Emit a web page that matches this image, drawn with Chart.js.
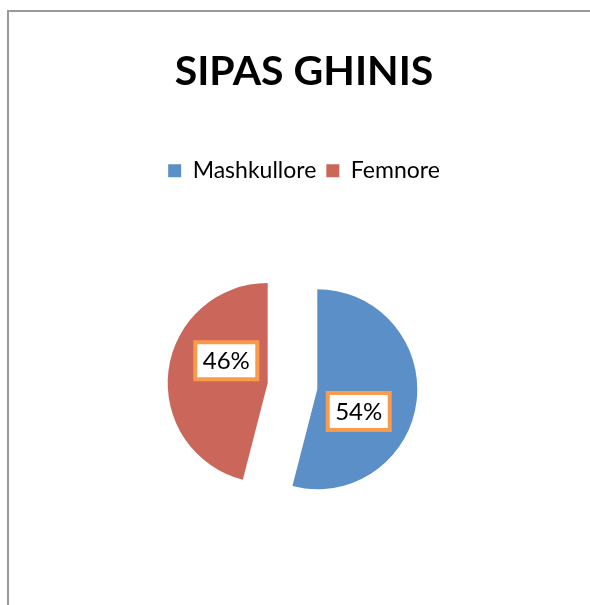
<!DOCTYPE html>
<html>
<head>
<meta charset="utf-8">
<script src="https://cdn.jsdelivr.net/npm/chart.js@4.4.1/dist/chart.umd.min.js"></script>
<style>
  html, body { margin: 0; padding: 0; background: #fff; overflow: hidden; }
  #wrap { position: relative; width: 590px; height: 605px; overflow: hidden; }
  /* chart frame, right and bottom edges run off the picture */
  #frame { position: absolute; left: 7px; top: 10px; width: 700px; height: 700px; border: 2px solid #999; }
  #genderChart { position: absolute; left: 0; top: 0; }
</style>
</head>
<body>
<div id="wrap">
  <div id="frame"></div>
  <canvas id="genderChart" width="590" height="605"></canvas>
</div>
<script>
// Data
const categories = ['Mashkullore', 'Femnore'];
const shares = [54, 46];
const sliceColors = ['#5B8FC8', '#CB665B'];

// Pulls every slice out along its middle angle (Excel style explode)
const explodePlugin = {
    id: 'explode',
    afterDatasetsUpdate(chart, args, opts) {
        chart.getDatasetMeta(0).data.forEach(arc => {
            const mid = (arc.startAngle + arc.endAngle) / 2;
            arc.x += Math.cos(mid) * opts.distance;
            arc.y += Math.sin(mid) * opts.distance;
        });
    }
};

// White boxes with orange border holding the percentages
const boxLabelsPlugin = {
    id: 'boxLabels',
    afterDatasetsDraw(chart) {
        const ctx = chart.ctx;
        ctx.save();
        ctx.font = '24px Lato';
        ctx.textAlign = 'center';
        ctx.textBaseline = 'middle';
        chart.getDatasetMeta(0).data.forEach((arc, i) => {
            const angle = (arc.startAngle + arc.endAngle) / 2 + 21 * Math.PI / 180;
            const dist = arc.outerRadius * 0.47;
            const x = arc.x + Math.cos(angle) * dist;
            const y = arc.y + Math.sin(angle) * dist;
            const w = 62, h = 37;
            ctx.fillStyle = '#fff';
            ctx.fillRect(x - w / 2, y - h / 2, w, h);
            ctx.strokeStyle = '#F89C4C';
            ctx.lineWidth = 4;
            ctx.strokeRect(x - w / 2, y - h / 2, w, h);
            ctx.fillStyle = '#000';
            ctx.fillText(shares[i] + '%', x, y + 1);
        });
        ctx.restore();
    }
};

function initChart() {
    const ctx = document.getElementById('genderChart').getContext('2d');

    new Chart(ctx, {
        type: 'pie',
        data: {
            labels: categories,
            datasets: [{
                data: shares,
                backgroundColor: sliceColors,
                borderWidth: 0,
                radius: 100
            }]
        },
        options: {
            responsive: false,
            animation: false,
            events: [],
            layout: {
                padding: { top: 47, left: 18, right: 0, bottom: 25 }
            },
            plugins: {
                title: {
                    display: true,
                    text: 'SIPAS GHINIS',
                    color: '#000',
                    font: { family: 'Lato', size: 41, weight: 'bold' },
                    padding: { top: 0, bottom: 53 }
                },
                // empty box on the right, nudges the pie left of the title
                subtitle: {
                    display: true,
                    position: 'right',
                    fullSize: false,
                    text: ' ',
                    font: { size: 10 },
                    padding: { top: 11, bottom: 0 }
                },
                legend: {
                    position: 'top',
                    labels: {
                        boxWidth: 13,
                        boxHeight: 13,
                        padding: 10,
                        color: '#000',
                        font: { family: 'Lato', size: 23 }
                    }
                },
                tooltip: { enabled: false },
                explode: { distance: 25 }
            }
        },
        plugins: [explodePlugin, boxLabelsPlugin]
    });
}

document.addEventListener('DOMContentLoaded', initChart);
</script>
</body>
</html>
